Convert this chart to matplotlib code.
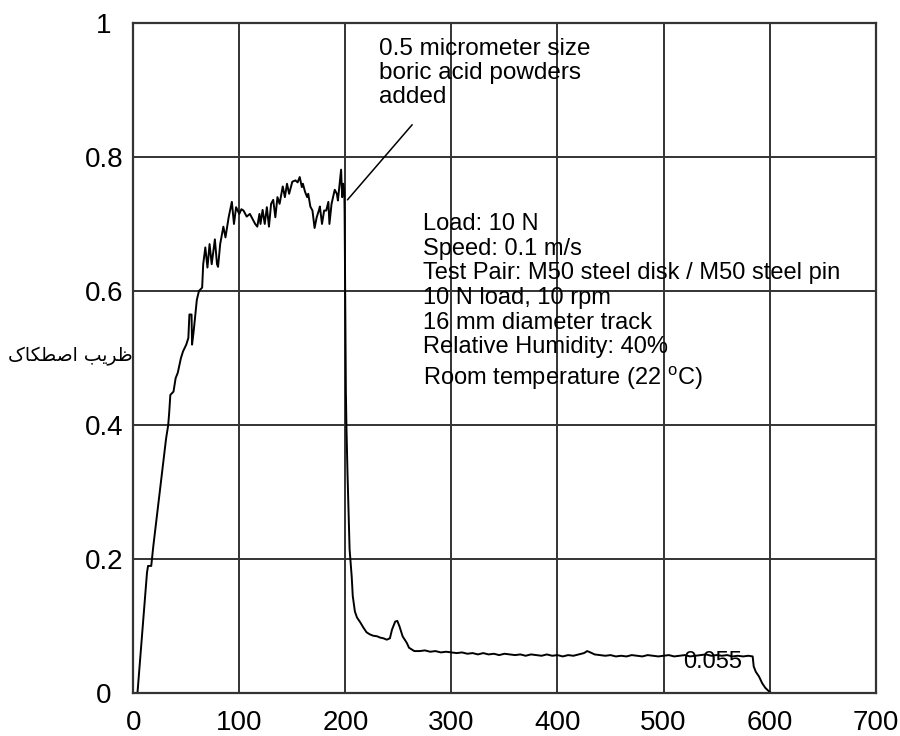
import matplotlib
matplotlib.use("Agg")
import matplotlib.pyplot as plt

plt.rcParams['font.family'] = ['Liberation Sans', 'DejaVu Sans']
plt.rcParams['mathtext.fontset'] = 'custom'
plt.rcParams['mathtext.rm'] = 'Liberation Sans'

# sliding distance (x) and friction coefficient (y)
dist = [4, 7, 10, 13, 14, 17, 19, 22, 25, 28, 31, 33, 34, 35, 38, 40, 42, 45, 47, 50,
        52, 53, 55, 55.5, 57, 60, 62, 65, 66, 68, 70, 72, 74, 77, 79, 80, 82, 85, 87, 90,
        93, 95, 97, 100, 102, 104, 107, 110, 113, 115, 117, 119, 120, 122, 124, 126, 128, 130, 132, 134,
        136, 138, 141, 143, 145, 147, 150, 153, 155, 157, 159, 160, 162, 164, 165, 167, 169, 171, 173, 175,
        176, 178, 180, 182, 184, 185, 187, 190, 192, 193, 195, 196, 197, 198, 199, 199.3, 199.6, 200, 200.5, 201,
        202, 203, 204, 206, 207, 209, 211, 214, 217, 220, 223, 226, 230, 233, 236, 239, 242, 244, 247, 249,
        251, 253, 254, 256, 258, 260, 262, 265, 270, 275, 280, 285, 290, 295, 300, 305, 310, 315, 320, 325,
        330, 335, 340, 345, 350, 355, 360, 365, 370, 375, 380, 385, 390, 395, 400, 405, 410, 415, 420, 425,
        428, 431, 435, 440, 445, 450, 455, 460, 465, 470, 475, 480, 485, 490, 495, 500, 505, 510, 515, 520,
        525, 530, 535, 540, 545, 550, 555, 560, 565, 570, 575, 580, 584, 585, 587, 590, 593, 596, 600, 602]
mu = [0.0, 0.06, 0.12, 0.18, 0.19, 0.19, 0.22, 0.26, 0.30, 0.34, 0.38, 0.40, 0.42, 0.445, 0.45, 0.47, 0.478, 0.50, 0.51, 0.52,
      0.53, 0.565, 0.565, 0.52, 0.54, 0.587, 0.60, 0.605, 0.64, 0.665, 0.635, 0.67, 0.64, 0.677, 0.64, 0.636, 0.67, 0.696, 0.68, 0.71,
      0.733, 0.70, 0.725, 0.715, 0.722, 0.72, 0.711, 0.715, 0.706, 0.70, 0.696, 0.715, 0.70, 0.721, 0.70, 0.725, 0.696, 0.73, 0.736, 0.71,
      0.74, 0.73, 0.756, 0.74, 0.76, 0.745, 0.763, 0.765, 0.762, 0.770, 0.755, 0.760, 0.748, 0.74, 0.745, 0.726, 0.72, 0.694, 0.71, 0.72,
      0.726, 0.70, 0.72, 0.72, 0.733, 0.70, 0.73, 0.751, 0.745, 0.735, 0.765, 0.781, 0.74, 0.76, 0.75, 0.72, 0.65, 0.55, 0.45, 0.40,
      0.33, 0.27, 0.215, 0.174, 0.145, 0.122, 0.113, 0.106, 0.098, 0.091, 0.088, 0.086, 0.085, 0.083, 0.082, 0.080, 0.082, 0.095, 0.107, 0.108,
      0.10, 0.09, 0.085, 0.08, 0.075, 0.068, 0.066, 0.063, 0.063, 0.064, 0.062, 0.063, 0.061, 0.062, 0.061, 0.060, 0.061, 0.059, 0.060, 0.058,
      0.060, 0.058, 0.059, 0.057, 0.059, 0.058, 0.057, 0.058, 0.056, 0.058, 0.057, 0.056, 0.058, 0.056, 0.057, 0.055, 0.057, 0.056, 0.058, 0.060,
      0.063, 0.061, 0.058, 0.057, 0.056, 0.057, 0.055, 0.056, 0.055, 0.057, 0.056, 0.055, 0.057, 0.056, 0.055, 0.056, 0.057, 0.055, 0.056, 0.057,
      0.055, 0.056, 0.057, 0.058, 0.056, 0.057, 0.056, 0.057, 0.055, 0.056, 0.055, 0.056, 0.055, 0.04, 0.032, 0.025, 0.015, 0.008, 0.002, 0.0]

xticks = [0, 100, 200, 300, 400, 500, 600, 700]
yticks = [0, 0.2, 0.4, 0.6, 0.8, 1]
ylabels = ['0', '0.2', '0.4', '0.6', '0.8', '1']

info = ["Load: 10 N",
        "Speed: 0.1 m/s",
        "Test Pair: M50 steel disk / M50 steel pin",
        "10 N load, 10 rpm",
        "16 mm diameter track",
        "Relative Humidity: 40%"]

# Persian label, pre-shaped glyphs in visual order ("ضریب اصطکاک")
ylab = "\uFB8E\uFE8E\uFB91\uFEC4\uFEBB\uFE8D \uFE90\uFBFE\uFEAE\uFEC7"

fig = plt.figure(figsize=(9, 7.36), dpi=100)
ax = fig.add_axes([0.148, 0.058, 0.825, 0.911])

ax.plot(dist, mu, color='black', lw=1.4)

ax.set_xlim(0, 700)
ax.set_ylim(0, 1)
ax.set_xticks(xticks)
ax.set_yticks(yticks)
ax.set_yticklabels(ylabels)
ax.tick_params(length=0, labelsize=20)
ax.tick_params(axis='x', pad=12)
ax.tick_params(axis='y', pad=21)
for lbl in ax.get_yticklabels():
    lbl.set_ha('center')
ax.grid(True, color='#333333', lw=1.4)
for s in ax.spines.values():
    s.set_color('#333333')
    s.set_linewidth(1.6)

# annotation for the boric acid addition
ax.text(232, 0.978, "0.5 micrometer size\nboric acid powders\nadded",
        fontsize=17.5, va='top', ha='left', linespacing=1.12)
ax.annotate("", xy=(202, 0.736), xytext=(263, 0.848),
            arrowprops=dict(arrowstyle='-', color='black', lw=1.1, shrinkA=0, shrinkB=0))

y0 = 0.700
for i, line in enumerate(info):
    ax.text(273, y0 - i * 0.0368, line, fontsize=17, va='center', ha='left')
ax.text(273, 0.470, r"Room temperature (22 $^{\rm o}$C)", fontsize=17, va='center', ha='left')

ax.text(518, 0.047, "0.055", fontsize=17, va='center', ha='left')

fig.text(0.078, 0.515, ylab, fontsize=13.5, ha='center', va='center', family='DejaVu Sans')

fig.savefig("out.png", dpi=100)
